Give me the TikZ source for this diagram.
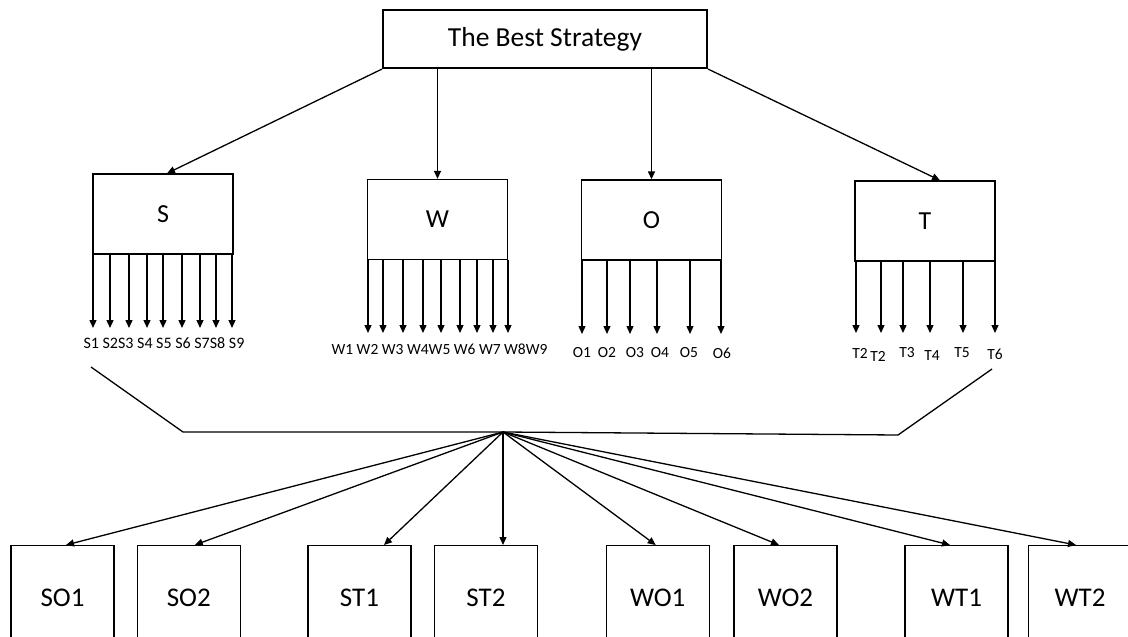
\documentclass[tikz,border=0pt]{standalone}
\usepackage{fontspec}
\setmainfont{Carlito}
\usetikzlibrary{arrows.meta,positioning,calc}

\begin{document}
\begin{tikzpicture}[
    x=1pt, y=-1pt, line width=1.3pt,
    top/.style={draw, line width=2.2pt, minimum width=324pt, minimum height=58pt,
      font=\fontsize{27.5}{32}\selectfont},
    blk/.style={draw, minimum width=140pt, minimum height=80pt,
      font=\fontsize{26}{30}\selectfont},
    res/.style={draw, anchor=north, minimum width=103pt, minimum height=104pt,
      font=\fontsize{27}{32}\selectfont},
    lbl/.style={inner sep=0pt, font=\fontsize{15.5}{18}\selectfont},
    arr/.style={-{Triangle[length=8pt,width=7pt]}},
  ]
  \useasboundingbox (0,0) rectangle (1128,637);
  \clip (0,0) rectangle (1128,637);
  % top and the four groups
  \node[top] (best) at (545,39) {The Best Strategy};
  \node[blk] (S) at (163,214) {S};
  \node[blk] (W) at (437.5,219.5) {W};
  \node[blk] (O) at (651.5,220) {O};
  \node[blk] (T) at (925,221) {T};
  \draw[arr] (best.south west) -- ([xshift=4pt]S.north);
  \draw[arr] (W.north |- best.south) -- (W.north);
  \draw[arr] (O.north |- best.south) -- (O.north);
  \draw[arr] (best.south east) -- ([xshift=15pt]T.north);
  % items under each group
  \foreach \x [count=\i] in {93,110,129,147,163,182,200,216,232} {
    \coordinate (se\i) at (\x,328);
    \draw[arr] (se\i |- S.south) -- (se\i);
  }
  \node[lbl, font=\fontsize{16}{18}\selectfont] (sl) at (164,343) {S1 S2S3 S4 S5 S6 S7S8 S9};
  \foreach \x [count=\i] in {368,383,403,423,441,460,477,493,508} {
    \coordinate (we\i) at (\x,333);
    \draw[arr] (we\i |- W.south) -- (we\i);
  }
  \node[lbl] (wl) at (439.5,349) {W1 W2 W3 W4W5 W6 W7 W8W9};
  \foreach \x/\l [count=\i] in {582/582,607/607,630/635,657/660,690/689,721/722} {
    \coordinate (oe\i) at (\x,334);
    \draw[arr] (oe\i |- O.south) -- (oe\i);
    \node[lbl] (o\i) at (\l,353) {O\i};
  }
  \foreach \x/\l/\y/\t [count=\i] in {856/860/353/T2,881/878/356/T2,903/907/353/T3,
      930/932/356/T4,963/962/353/T5,995/995/354/T6} {
    \coordinate (te\i) at (\x,333);
    \draw[arr] (te\i |- T.south) -- (te\i);
    \node[lbl] (t\i) at (\l,\y) {\t};
  }
  % joining line
  \coordinate (sj) at (91,367);
  \coordinate (jl) at (183,432);
  \coordinate (hub) at (503,432);
  \coordinate (jr) at (898,435);
  \coordinate (tj) at (992,369);
  \draw (sj) -- (jl) -- (hub) -- (jr) -- (tj);
  % combined strategies
  \foreach \n/\t/\x/\d in {so1/SO1/62.5/3.5, so2/SO2/188.75/6, st1/ST1/359.5/24.5,
      st2/ST2/486/17, wo1/WO1/657.75/-2, wo2/WO2/785.5/-6.5,
      wt1/WT1/956.5/-6.5, wt2/WT2/1080/-4} {
    \node[res] (\n) at (\x,545) {\t};
    \draw[arr] (hub) -- ([xshift=\d pt]\n.north);
  }
\end{tikzpicture}
\end{document}
